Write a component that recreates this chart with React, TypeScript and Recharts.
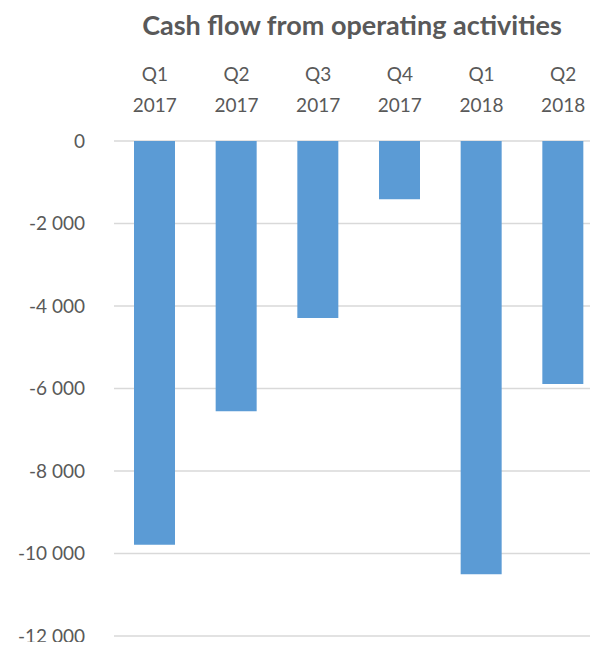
import { BarChart, Bar, XAxis, YAxis, CartesianGrid } from 'recharts';

const quarters = ['Q1', 'Q2', 'Q3', 'Q4', 'Q1', 'Q2'];
const years = ['2017', '2017', '2017', '2017', '2018', '2018'];
const cashFlow = [-9790, -6550, -4290, -1410, -10500, -5890];
const yTicks = [0, -2000, -4000, -6000, -8000, -10000, -12000];

const data = quarters.map((q, i) => ({ name: `${q} ${years[i]}`, q, year: years[i], value: cashFlow[i] }));

const FONT = 'Lato, "Open Sans", sans-serif';
const TEXT = '#595959';

const fmt = (v: number) => {
  const s = Math.abs(v).toString().replace(/\B(?=(\d{3})+(?!\d))/g, ' ');
  return v < 0 ? '-' + s : s;
};

const QuarterTick = (props: any) => {
  const { x, y, index } = props;
  return (
    <g>
      <text x={x} y={y - 60} textAnchor="middle" fill={TEXT} fontSize={19} fontFamily={FONT}>{quarters[index]}</text>
      <text x={x} y={y - 29} textAnchor="middle" fill={TEXT} fontSize={19} fontFamily={FONT}>{years[index]}</text>
    </g>
  );
};

export default function App() {
  return (
    <div style={{ margin: -8, width: 598, height: 650, overflow: 'hidden', position: 'relative', background: '#fff' }}>
      <div style={{ position: 'absolute', top: 7, left: 102, width: 500, textAlign: 'center', fontFamily: FONT, fontWeight: 700, fontSize: 27, color: TEXT, lineHeight: '36px' }}>
        Cash flow from operating activities
      </div>
      <BarChart width={606} height={650} data={data} margin={{ top: 61, right: 2, bottom: 14, left: 0 }}>
        <CartesianGrid vertical={false} stroke="#d9d9d9" strokeWidth={1.5} />
        <XAxis dataKey="name" orientation="top" height={80} axisLine={false} tickLine={false} tickSize={0} tickMargin={0} tick={<QuarterTick />} interval={0} />
        <YAxis domain={[-12000, 0]} ticks={yTicks} width={114} axisLine={false} tickLine={false} tickSize={0} tickMargin={29} tickFormatter={fmt} tick={{ fill: TEXT, fontSize: 19, fontFamily: FONT }} />
        <Bar dataKey="value" fill="#5b9bd5" barSize={41} isAnimationActive={false} />
      </BarChart>
    </div>
  );
}
